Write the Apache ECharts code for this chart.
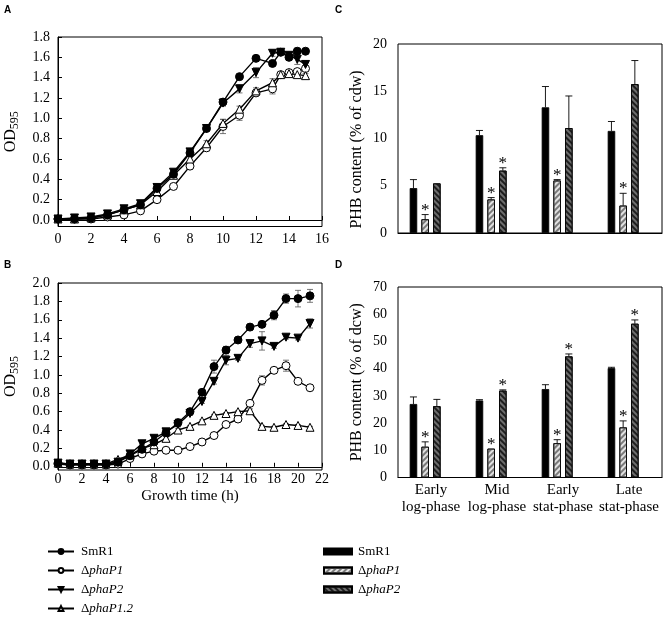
<!DOCTYPE html>
<html><head><meta charset="utf-8">
<script src="https://cdn.jsdelivr.net/npm/echarts@6/dist/echarts.min.js"></script>
<style>html,body{margin:0;padding:0;background:#fff}#c{width:666px;height:623px}</style>
</head><body><div id="c"></div>
<script>
const FONT = 'Liberation Serif';

// ---------- Panel A data ----------
const xA = [0,1,2,3,4,5,6,7,8,9,10,11,12,13,13.5,14,14.5,15];
const aSmR1 = [0.01,0.01,0.02,0.05,0.10,0.15,0.31,0.45,0.66,0.90,1.16,1.41,1.59,1.54,1.65,1.60,1.66,1.66];
const aSmR1Err = [0.01,0.01,0.01,0.01,0.01,0.01,0.01,0.01,0.02,0.02,0.02,0.02,0.02,0.02,0.02,0.03,0.03,0.02];
const aP1 = [0.01,0.01,0.01,0.03,0.05,0.09,0.20,0.33,0.53,0.71,0.92,1.03,1.25,1.29,1.43,1.45,1.46,1.49];
const aP1Err = [0.01,0.01,0.01,0.01,0.01,0.01,0.02,0.02,0.03,0.03,0.07,0.05,0.03,0.05,0.02,0.02,0.02,0.02];
const aP2 = [0.01,0.02,0.03,0.06,0.11,0.16,0.32,0.47,0.67,0.90,1.15,1.29,1.45,1.64,1.65,1.62,1.58,1.53];
const aP2Err = [0.01,0.01,0.01,0.01,0.01,0.01,0.02,0.02,0.03,0.02,0.03,0.04,0.05,0.03,0.02,0.03,0.05,0.03];
const aP12 = [0.01,0.01,0.02,0.05,0.10,0.15,0.28,0.44,0.60,0.75,0.95,1.09,1.27,1.35,1.43,1.44,1.43,1.42];
const aP12Err = [0.01,0.01,0.01,0.01,0.01,0.01,0.02,0.02,0.03,0.03,0.04,0.03,0.03,0.04,0.02,0.02,0.02,0.02];
const yTicksA = [0,0.2,0.4,0.6,0.8,1.0,1.2,1.4,1.6,1.8];
const xTicksA = [0,2,4,6,8,10,12,14,16];

// ---------- Panel B data ----------
const xB = [0,1,2,3,4,5,6,7,8,9,10,11,12,13,14,15,16,17,18,19,20,21];
const bSmR1 = [0.04,0.03,0.03,0.03,0.03,0.05,0.12,0.19,0.27,0.37,0.48,0.60,0.81,1.09,1.27,1.38,1.52,1.55,1.65,1.83,1.83,1.86];
const bSmR1Err = [0.01,0.01,0.01,0.01,0.01,0.01,0.02,0.02,0.02,0.02,0.04,0.03,0.03,0.07,0.04,0.02,0.03,0.02,0.05,0.05,0.09,0.07];
const bP1 = [0.03,0.02,0.02,0.02,0.02,0.03,0.09,0.14,0.17,0.18,0.18,0.22,0.27,0.34,0.46,0.52,0.69,0.94,1.05,1.10,0.93,0.86];
const bP1Err = [0.01,0.01,0.01,0.01,0.01,0.01,0.01,0.01,0.01,0.01,0.01,0.01,0.01,0.01,0.01,0.01,0.02,0.05,0.02,0.06,0.02,0.02];
const bP2 = [0.04,0.03,0.03,0.03,0.03,0.05,0.14,0.25,0.31,0.38,0.46,0.58,0.71,0.93,1.16,1.18,1.34,1.37,1.31,1.41,1.40,1.56];
const bP2Err = [0.01,0.01,0.01,0.01,0.01,0.01,0.01,0.01,0.02,0.02,0.02,0.02,0.02,0.03,0.05,0.02,0.04,0.10,0.02,0.02,0.02,0.05];
const bP12 = [0.04,0.03,0.03,0.03,0.03,0.08,0.13,0.20,0.24,0.31,0.40,0.44,0.50,0.56,0.58,0.60,0.61,0.44,0.43,0.46,0.45,0.43];
const bP12Err = [0.01,0.01,0.01,0.01,0.01,0.01,0.01,0.01,0.01,0.02,0.02,0.01,0.01,0.01,0.01,0.01,0.02,0.01,0.01,0.01,0.01,0.01];
const yTicksB = [0,0.2,0.4,0.6,0.8,1.0,1.2,1.4,1.6,1.8,2.0];
const xTicksB = [0,2,4,6,8,10,12,14,16,18,20,22];

// ---------- Panels C / D data ----------
const phases = ['Early\nlog-phase','Mid\nlog-phase','Early\nstat-phase','Late\nstat-phase'];
const cSmR1 = [4.75,10.35,13.3,10.8];   const cSmR1Err = [0.9,0.5,2.2,1.0];
const cP1 = [1.45,3.55,5.55,2.9];       const cP1Err = [0.5,0.2,0.1,1.3];  const cP1Sig = [1,1,1,1];
const cP2 = [5.25,6.6,11.1,15.75];      const cP2Err = [0,0.3,3.4,2.5];    const cP2Sig = [0,1,0,0];
const dSmR1 = [27.0,28.3,32.5,40.2];    const dSmR1Err = [2.6,0.3,1.6,0.3];
const dP1 = [11.3,10.6,12.6,18.4];      const dP1Err = [1.8,0,1.3,2.4];    const dP1Sig = [1,1,1,1];
const dP2 = [26.2,31.9,44.5,56.5];      const dP2Err = [2.5,0.3,0.9,1.4];  const dP2Sig = [0,1,1,1];
const noSig = [0,0,0,0];

// ---------- style constants ----------
const BAR_W = 7.5, BAR_GAP = 0.56, N_SLOTS = 4;
const txt = {fontFamily: FONT, color: '#000'};

const chart = echarts.init(document.getElementById('c'));

function lineSeries(name, ax, xs, ys, fill, symbol, rot, size) {
  return {
    type: 'line', name, xAxisIndex: ax, yAxisIndex: ax, z: 4,
    data: xs.map((x, i) => [x, ys[i]]),
    symbol, symbolRotate: rot, symbolSize: size, showSymbol: true,
    lineStyle: {color: '#000', width: 1.4},
    itemStyle: {color: fill, borderColor: '#000', borderWidth: 1},
    emphasis: {disabled: true}, animation: false
  };
}
function errLine(ax, xs, ys, es) {
  return {
    type: 'custom', xAxisIndex: ax, yAxisIndex: ax, z: 3, silent: true, animation: false,
    data: xs.map((x, i) => [x, ys[i], es[i]]),
    encode: {x: 0, y: 1},
    renderItem(params, api) {
      const x = api.value(0), y = api.value(1), e = api.value(2);
      const t = api.coord([x, y + e]), b = api.coord([x, y - e]);
      const c = 3, st = {stroke: '#555', lineWidth: 0.8};
      return {type: 'group', children: [
        {type: 'line', shape: {x1: t[0], y1: t[1], x2: b[0], y2: b[1]}, style: st},
        {type: 'line', shape: {x1: t[0] - c, y1: t[1], x2: t[0] + c, y2: t[1]}, style: st},
        {type: 'line', shape: {x1: b[0] - c, y1: b[1], x2: b[0] + c, y2: b[1]}, style: st}
      ]};
    }
  };
}
const decalP1 = {symbol: 'rect', symbolSize: 1, dashArrayX: [1, 0], dashArrayY: [1.3, 1.7], rotation: -Math.PI / 4, color: '#7a7a7a'};
const decalP2 = {symbol: 'rect', symbolSize: 1, dashArrayX: [1, 0], dashArrayY: [1.3, 1.5], rotation: Math.PI / 4, color: '#1e1e1e'};
function barSeries(name, ax, vals, color, decal) {
  const s = {
    type: 'bar', name, xAxisIndex: ax, yAxisIndex: ax, z: 2, data: vals,
    barWidth: BAR_W, barGap: (BAR_GAP * 100) + '%',
    itemStyle: {color, borderColor: '#000', borderWidth: 0.8},
    emphasis: {disabled: true}, animation: false
  };
  if (decal) s.itemStyle.decal = decal;
  return s;
}
function padBar(ax) {
  return {type: 'bar', name: 'pad' + ax, xAxisIndex: ax, yAxisIndex: ax, data: phases.map(() => '-'),
    barWidth: BAR_W, barGap: (BAR_GAP * 100) + '%', animation: false};
}
function errBar(ax, slot, vals, errs, sig) {
  const G = BAR_W * BAR_GAP;
  const off = -(N_SLOTS * BAR_W + (N_SLOTS - 1) * G) / 2 + BAR_W / 2 + slot * (BAR_W + G);
  return {
    type: 'custom', xAxisIndex: ax, yAxisIndex: ax, z: 5, silent: true, animation: false,
    data: vals.map((v, i) => [i, v, errs[i], sig[i]]),
    encode: {x: 0, y: 1},
    renderItem(params, api) {
      const i = api.value(0), v = api.value(1), e = api.value(2), s = api.value(3);
      const base = api.coord([i, v]), top = api.coord([i, v + e]);
      const x = base[0] + off;
      const st = {stroke: '#000', lineWidth: 0.9};
      const ch = [];
      if (e > 0) {
        ch.push({type: 'line', shape: {x1: x, y1: base[1], x2: x, y2: top[1]}, style: st});
        ch.push({type: 'line', shape: {x1: x - 3.5, y1: top[1], x2: x + 3.5, y2: top[1]}, style: st});
      }
      if (s) {
        ch.push({type: 'text', x: x, y: top[1] + 4,
          style: {text: '*', fill: '#000', font: '17px "Liberation Serif"', align: 'center', verticalAlign: 'bottom'}});
      }
      return {type: 'group', children: ch};
    }
  };
}
function legendFmt(name) {
  const n = name.replace('bar ', '');
  if (n.charAt(0) === 'Δ') return '{n|Δ}{i|' + n.slice(1) + '}';
  return '{n|' + n + '}';
}
const legendRich = {
  n: {fontFamily: FONT, fontSize: 13, lineHeight: 14, color: '#000'},
  i: {fontFamily: FONT, fontSize: 13, lineHeight: 14, color: '#000', fontStyle: 'italic'}
};
const odName = '{a|OD}{b|595}';
const odRich = {
  a: {fontFamily: FONT, fontSize: 16, lineHeight: 20, color: '#000'},
  b: {fontFamily: FONT, fontSize: 12, lineHeight: 10, color: '#000', verticalAlign: 'bottom'}
};
function valueX(idx, max, ticks, margin) {
  return {type: 'value', gridIndex: idx, min: 0, max: max, interval: 2,
    axisLine: {lineStyle: {color: '#000', width: 1}},
    axisTick: {inside: true, length: 4, lineStyle: {color: '#000'}},
    axisLabel: Object.assign({fontSize: 14, margin: margin}, txt),
    splitLine: {show: false}};
}

const option = {
  backgroundColor: '#fff',
  animation: false,
  title: [
    {text: 'A', left: 4, top: 5, padding: 0, textStyle: {fontSize: 10, fontWeight: 'bold', fontFamily: 'Liberation Sans', color: '#000'}},
    {text: 'B', left: 4, top: 260, padding: 0, textStyle: {fontSize: 10, fontWeight: 'bold', fontFamily: 'Liberation Sans', color: '#000'}},
    {text: 'C', left: 335, top: 5, padding: 0, textStyle: {fontSize: 10, fontWeight: 'bold', fontFamily: 'Liberation Sans', color: '#000'}},
    {text: 'D', left: 335, top: 260, padding: 0, textStyle: {fontSize: 10, fontWeight: 'bold', fontFamily: 'Liberation Sans', color: '#000'}}
  ],
  grid: [
    {left: 58, right: 344, top: 37, bottom: 396.5, show: true, borderColor: '#000', borderWidth: 1},
    {left: 58, right: 344, top: 283, bottom: 153, show: true, borderColor: '#000', borderWidth: 1},
    {left: 398, right: 4, top: 44, bottom: 390, show: true, borderColor: '#000', borderWidth: 1},
    {left: 398, right: 4, top: 287, bottom: 145.5, show: true, borderColor: '#000', borderWidth: 1}
  ],
  xAxis: [
    valueX(0, 16, xTicksA, 6),
    Object.assign(valueX(1, 22, xTicksB, 2), {name: 'Growth time (h)', nameLocation: 'middle', nameGap: 19,
      nameTextStyle: Object.assign({fontSize: 15}, txt)}),
    {type: 'category', gridIndex: 2, data: phases, axisLine: {lineStyle: {color: '#000'}},
      axisTick: {show: false}, axisLabel: {show: false}},
    {type: 'category', gridIndex: 3, data: phases, axisLine: {lineStyle: {color: '#000'}},
      axisTick: {show: false}, axisLabel: Object.assign({fontSize: 15, lineHeight: 17, margin: 4, interval: 0}, txt)}
  ],
  yAxis: [
    {type: 'value', gridIndex: 0, min: -0.064, max: 1.8,
      name: odName, nameLocation: 'middle', nameGap: 37, nameTextStyle: {rich: odRich},
      axisLine: {lineStyle: {color: '#000'}},
      axisTick: {customValues: yTicksA, inside: true, length: 4, lineStyle: {color: '#000'}},
      axisLabel: Object.assign({customValues: yTicksA, fontSize: 14, margin: 8, formatter: v => v.toFixed(1)}, txt),
      splitLine: {show: false}},
    {type: 'value', gridIndex: 1, min: -0.035, max: 2.0,
      name: odName, nameLocation: 'middle', nameGap: 37, nameTextStyle: {rich: odRich},
      axisLine: {lineStyle: {color: '#000'}},
      axisTick: {customValues: yTicksB, inside: true, length: 4, lineStyle: {color: '#000'}},
      axisLabel: Object.assign({customValues: yTicksB, fontSize: 14, margin: 8, formatter: v => v.toFixed(1)}, txt),
      splitLine: {show: false}},
    {type: 'value', gridIndex: 2, min: 0, max: 20, interval: 5,
      name: 'PHB content (% of cdw)', nameLocation: 'middle', nameGap: 33,
      nameTextStyle: Object.assign({fontSize: 16, padding: [0, 22, 0, 0]}, txt),
      axisLine: {lineStyle: {color: '#000'}}, axisTick: {show: false},
      axisLabel: Object.assign({fontSize: 14, margin: 11}, txt), splitLine: {show: false}},
    {type: 'value', gridIndex: 3, min: 0, max: 70, interval: 10,
      name: 'PHB content (% of dcw)', nameLocation: 'middle', nameGap: 33,
      nameTextStyle: Object.assign({fontSize: 16}, txt),
      axisLine: {lineStyle: {color: '#000'}}, axisTick: {show: false},
      axisLabel: Object.assign({fontSize: 14, margin: 11}, txt), splitLine: {show: false}}
  ],
  legend: [
    {data: ['SmR1', 'ΔphaP1', 'ΔphaP2', 'ΔphaP1.2'], orient: 'vertical', left: 47, top: 545, padding: 0,
      itemWidth: 26, itemHeight: 6, itemGap: 6, selectedMode: false, formatter: legendFmt,
      textStyle: {rich: legendRich, padding: [0, 0, 0, 2]}},
    {data: ['bar SmR1', 'bar ΔphaP1', 'bar ΔphaP2'], orient: 'vertical', left: 323, top: 545, padding: 0,
      icon: 'rect', itemWidth: 28, itemHeight: 6, itemGap: 6, selectedMode: false, formatter: legendFmt,
      textStyle: {rich: legendRich, padding: [0, 0, 0, 1]}}
  ],
  series: [
    errLine(0, xA, aP1, aP1Err), errLine(0, xA, aP12, aP12Err), errLine(0, xA, aP2, aP2Err), errLine(0, xA, aSmR1, aSmR1Err),
    lineSeries('ΔphaP1', 0, xA, aP1, '#fff', 'circle', 0, 8),
    lineSeries('ΔphaP1.2', 0, xA, aP12, '#fff', 'triangle', 0, 8),
    lineSeries('ΔphaP2', 0, xA, aP2, '#000', 'triangle', 180, 8),
    lineSeries('SmR1', 0, xA, aSmR1, '#000', 'circle', 0, 8),
    errLine(1, xB, bP1, bP1Err), errLine(1, xB, bP12, bP12Err), errLine(1, xB, bP2, bP2Err), errLine(1, xB, bSmR1, bSmR1Err),
    lineSeries('ΔphaP1', 1, xB, bP1, '#fff', 'circle', 0, 8),
    lineSeries('ΔphaP1.2', 1, xB, bP12, '#fff', 'triangle', 0, 8),
    lineSeries('ΔphaP2', 1, xB, bP2, '#000', 'triangle', 180, 8),
    lineSeries('SmR1', 1, xB, bSmR1, '#000', 'circle', 0, 8),
    barSeries('bar SmR1', 2, cSmR1, '#000'),
    barSeries('bar ΔphaP1', 2, cP1, '#e2e2e2', decalP1),
    barSeries('bar ΔphaP2', 2, cP2, '#6e6e6e', decalP2),
    padBar(2),
    errBar(2, 0, cSmR1, cSmR1Err, noSig), errBar(2, 1, cP1, cP1Err, cP1Sig), errBar(2, 2, cP2, cP2Err, cP2Sig),
    barSeries('bar SmR1', 3, dSmR1, '#000'),
    barSeries('bar ΔphaP1', 3, dP1, '#e2e2e2', decalP1),
    barSeries('bar ΔphaP2', 3, dP2, '#6e6e6e', decalP2),
    padBar(3),
    errBar(3, 0, dSmR1, dSmR1Err, noSig), errBar(3, 1, dP1, dP1Err, dP1Sig), errBar(3, 2, dP2, dP2Err, dP2Sig)
  ]
};
chart.setOption(option);
</script></body></html>
